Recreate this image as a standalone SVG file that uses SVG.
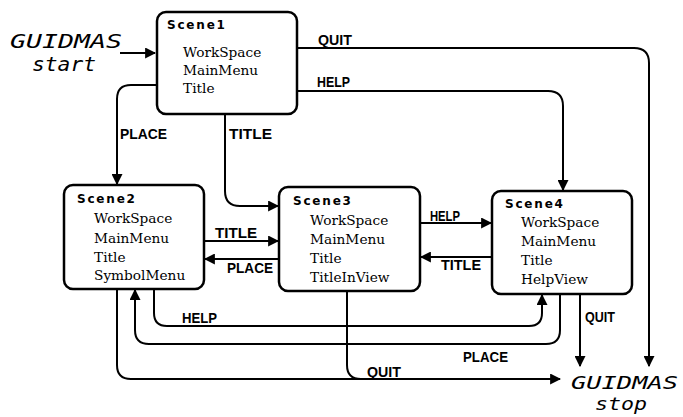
<svg xmlns="http://www.w3.org/2000/svg" width="683" height="417" viewBox="0 0 683 417">
  <style>
    .box { fill: #fff; stroke: #000; stroke-width: 2.5; }
    .head { font-family: "DejaVu Sans", sans-serif; font-weight: bold; font-size: 12px; letter-spacing: 1.8px; fill: #000; }
    .item { font-family: "DejaVu Serif", "Liberation Serif", serif; font-size: 13.7px; fill: #000; }
    .lbl { font-family: "Liberation Sans", "DejaVu Sans", sans-serif; font-weight: bold; font-size: 14px; fill: #000; }
    .term { font-family: "DejaVu Sans Mono", "Liberation Mono", monospace; font-style: oblique; font-size: 20px; fill: #000; }
    .term.sm { font-size: 18px; }
    .wire { fill: none; stroke: #000; stroke-width: 2; }
  </style>
  <defs>
    <marker id="ah" viewBox="0 0 10 10" refX="9" refY="5" markerWidth="11" markerHeight="11" markerUnits="userSpaceOnUse" orient="auto">
      <path d="M0,0 L10,5 L0,10 z" fill="#000"/>
    </marker>
  </defs>
  <rect width="683" height="417" fill="#fff"/>

  <!-- terminals -->
  <g id="start">
    <text class="term" x="10" y="48" textLength="112" lengthAdjust="spacingAndGlyphs">GUIDMAS</text>
    <text class="term" x="32" y="71" textLength="64" lengthAdjust="spacingAndGlyphs">start</text>
  </g>
  <g id="stop">
    <text class="term sm" x="571" y="389" textLength="107" lengthAdjust="spacingAndGlyphs">GUIDMAS</text>
    <text class="term sm" x="595" y="410" textLength="52" lengthAdjust="spacingAndGlyphs">stop</text>
  </g>

  <!-- scenes -->
  <g id="scene1">
    <rect class="box" x="157" y="12" width="140" height="102" rx="9"/>
    <text class="head" x="167" y="29">Scene1</text>
    <text class="item" x="183" y="57">WorkSpace</text>
    <text class="item" x="183" y="75">MainMenu</text>
    <text class="item" x="183" y="93">Title</text>
  </g>
  <g id="scene2">
    <rect class="box" x="64" y="185" width="140" height="104" rx="9"/>
    <text class="head" x="77" y="203">Scene2</text>
    <text class="item" x="94" y="223">WorkSpace</text>
    <text class="item" x="94" y="243">MainMenu</text>
    <text class="item" x="94" y="262">Title</text>
    <text class="item" x="94" y="280">SymbolMenu</text>
  </g>
  <g id="scene3">
    <rect class="box" x="279" y="187" width="141" height="104" rx="9"/>
    <text class="head" x="293" y="205">Scene3</text>
    <text class="item" x="310" y="225">WorkSpace</text>
    <text class="item" x="310" y="244">MainMenu</text>
    <text class="item" x="310" y="263">Title</text>
    <text class="item" x="310" y="282">TitleInView</text>
  </g>
  <g id="scene4">
    <rect class="box" x="492" y="191" width="140" height="103" rx="9"/>
    <text class="head" x="505" y="208">Scene4</text>
    <text class="item" x="521" y="227">WorkSpace</text>
    <text class="item" x="521" y="246">MainMenu</text>
    <text class="item" x="521" y="265">Title</text>
    <text class="item" x="521" y="284">HelpView</text>
  </g>

  <!-- transitions -->
  <g id="connectors">
    <path class="wire" d="M120,53 H155" marker-end="url(#ah)"/>
    <path class="wire" d="M297,48 H634 Q649,48 649,63 V366" marker-end="url(#ah)"/>
    <path class="wire" d="M297,91 H548 Q563,91 563,106 V190" marker-end="url(#ah)"/>
    <path class="wire" d="M157,85 H131 Q117,85 117,99 V184" marker-end="url(#ah)"/>
    <path class="wire" d="M225,114 V191 Q225,206 240,206 H278" marker-end="url(#ah)"/>
    <path class="wire" d="M204,241 H278" marker-end="url(#ah)"/>
    <path class="wire" d="M279,259 H205" marker-end="url(#ah)"/>
    <path class="wire" d="M420,223 H491" marker-end="url(#ah)"/>
    <path class="wire" d="M492,257 H421" marker-end="url(#ah)"/>
    <path class="wire" d="M154,289 V313 Q154,326 167,326 H529 Q542,326 542,313 V295" marker-end="url(#ah)"/>
    <path class="wire" d="M560,294 V330 Q560,344 546,344 H149 Q135,344 135,330 V290" marker-end="url(#ah)"/>
    <path class="wire" d="M117,289 V365 Q117,379 131,379 H560" marker-end="url(#ah)"/>
    <path class="wire" d="M347,291 V365 Q347,379 361,379"/>
    <path class="wire" d="M580,294 V366" marker-end="url(#ah)"/>

    <text class="lbl" x="318" y="45" textLength="34" lengthAdjust="spacingAndGlyphs">QUIT</text>
    <text class="lbl" x="317" y="87" textLength="33" lengthAdjust="spacingAndGlyphs">HELP</text>
    <text class="lbl" x="120" y="139" textLength="47" lengthAdjust="spacingAndGlyphs">PLACE</text>
    <text class="lbl" x="229" y="139" textLength="43" lengthAdjust="spacingAndGlyphs">TITLE</text>
    <text class="lbl" x="215" y="238" textLength="42" lengthAdjust="spacingAndGlyphs">TITLE</text>
    <text class="lbl" x="227" y="273" textLength="46" lengthAdjust="spacingAndGlyphs">PLACE</text>
    <text class="lbl" x="430" y="221" textLength="30" lengthAdjust="spacingAndGlyphs">HELP</text>
    <text class="lbl" x="441" y="270" textLength="40" lengthAdjust="spacingAndGlyphs">TITLE</text>
    <text class="lbl" x="182" y="323" textLength="35" lengthAdjust="spacingAndGlyphs">HELP</text>
    <text class="lbl" x="463" y="362" textLength="45" lengthAdjust="spacingAndGlyphs">PLACE</text>
    <text class="lbl" x="367" y="377" textLength="34" lengthAdjust="spacingAndGlyphs">QUIT</text>
    <text class="lbl" x="585" y="322" textLength="30" lengthAdjust="spacingAndGlyphs">QUIT</text>
  </g>
</svg>
